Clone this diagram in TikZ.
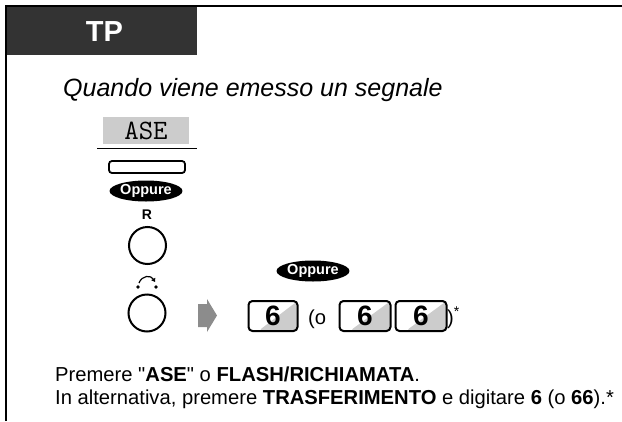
\documentclass[tikz,border=0pt]{standalone}
\usepackage{fontspec}
\setmainfont{Liberation Sans}
\newfontfamily\tpquote{Liberation Sans}
\usetikzlibrary{shapes.geometric,arrows.meta,positioning,calc}
\definecolor{tphead}{HTML}{333333}
\definecolor{tpgray}{HTML}{CCCCCC}
\definecolor{tparrow}{HTML}{8C8C8C}
\tikzset{
tpkey/.style={rectangle,rounded corners=4pt,draw=black,line width=2pt,
  minimum width=49pt,minimum height=30pt,inner sep=0pt,
  font=\fontsize{28}{28}\selectfont\bfseries,
  path picture={\fill[tpgray]
    ($(path picture bounding box.south west)!0.2!(path picture bounding box.south east)$)
    -- (path picture bounding box.north east) -- (path picture bounding box.south east) -- cycle;}},
tpor/.style={ellipse,fill=black,text=white,inner sep=0pt,minimum width=63pt,
  minimum height=21pt,font=\fontsize{14.5}{14.5}\selectfont\bfseries},
tpcirc/.style={circle,draw=black,line width=2pt,minimum size=37pt,inner sep=0pt},
tptext/.style={inner sep=0pt,font=\fontsize{20.2}{23}\selectfont}
}

\begin{document}
\begin{tikzpicture}[x=1pt,y=-1pt]
\useasboundingbox (0,0) rectangle (622,421);
% header and frame
\fill[tphead] (7,7) rectangle (197,55);
\draw[line width=2.2pt] (6,421) -- (6,6) -- (622,6);
\node[text=white,font=\fontsize{29}{29}\selectfont\bfseries] (tp) at (104.5,32) {TP};
\node[anchor=base west,inner sep=0pt,font=\fontsize{25}{25}\selectfont\itshape] (cond) at (63,96) {Quando viene emesso un segnale};
% left column of keys
\node[fill=tpgray,minimum width=86pt,minimum height=27pt,inner sep=0pt,font=\fontsize{28}{28}\selectfont\ttfamily] (ase) at (146,130.5) {ASE};
\coordinate (asel) at (97,148);
\coordinate (aser) at (197,148);
\draw[line width=1pt] (asel) -- (aser);
\node[draw,line width=1.8pt,rounded corners=3pt,minimum width=76pt,minimum height=12pt,inner sep=0pt] (flash) at (147,167) {};
\node[tpor] (or1) at (146,191) {Oppure};
\node[font=\fontsize{14}{14}\selectfont\bfseries,inner sep=0pt] (rlab) at (147,215) {R};
\node[tpcirc] (rbtn) at (147.5,245.5) {};
\coordinate (dl) at (138,287);
\coordinate (dr) at (156,287);
\fill (dl) circle (1.8pt);
\fill (dr) circle (1.8pt);
\draw[line width=1.2pt,-{Triangle[length=3.5pt,width=4.5pt]}] (139,283) .. controls (142,275) and (151,275) .. (155,282);
\node[tpcirc] (tbtn) at (147,313) {};
% gray arrow and dial keys
\fill[tparrow] (198,304) -- (207,304) -- (207,299) -- (217,315.5) -- (207,332) -- (207,327) -- (198,327) -- cycle;
\node[tpor] (or2) at (313,271) {Oppure};
\node[tpkey] (k6) at (273,316) {6};
\node[tptext,anchor=base west] (lpar) at (308,324) {(o};
\node[tpkey,minimum width=51pt] (k66a) at (365,316) {6};
\node[tpkey,minimum width=51pt,right=3pt of k66a] (k66b) {6};
\node[tptext,anchor=base west] (rpar) at (447,324) {)\textsuperscript{*}};
% description
\node[tptext,anchor=base west] (desc1) at (55,381) {Premere {\tpquote"}\textbf{ASE}{\tpquote"} o \textbf{FLASH/RICHIAMATA}.};
\node[tptext,anchor=base west] (desc2) at (55,404) {In alternativa, premere \textbf{TRASFERIMENTO} e digitare \textbf{6} (o \textbf{66}).*};
\end{tikzpicture}
\end{document}
